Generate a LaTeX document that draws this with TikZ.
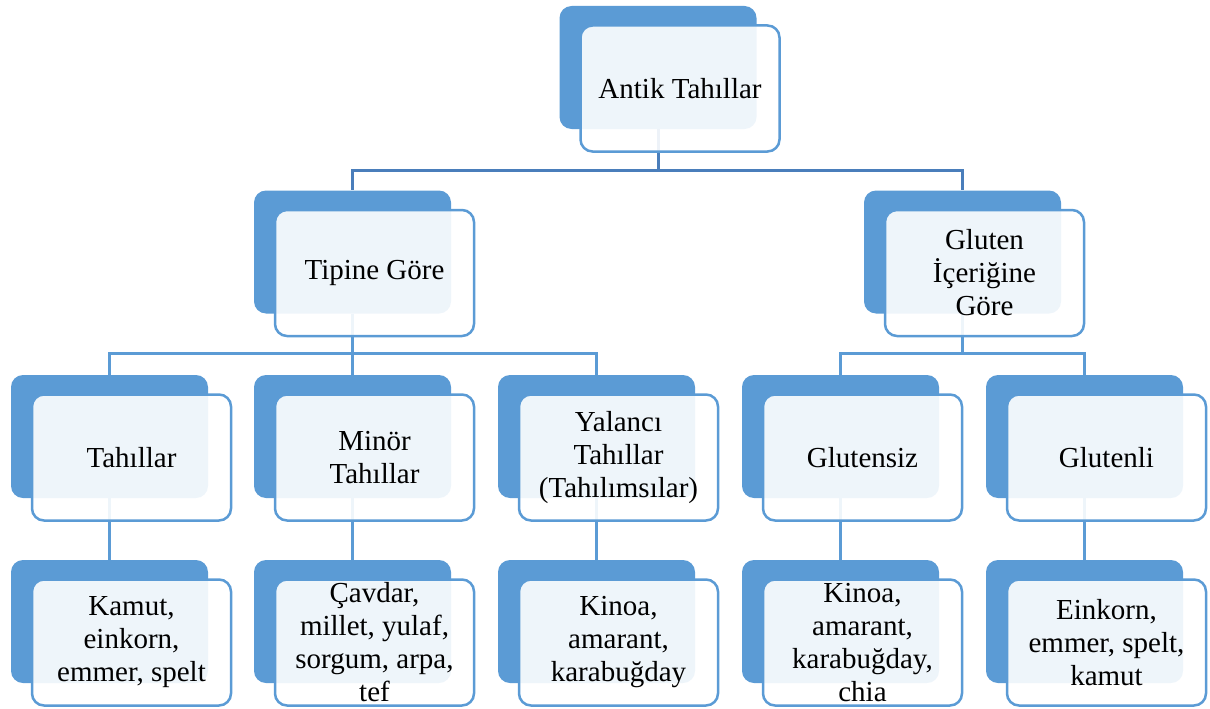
\documentclass[tikz,border=0pt]{standalone}
\usepackage{fontspec}
\setmainfont{LiberationSerif}[Extension=.ttf, UprightFont=*-Regular, BoldFont=*-Bold]
\usetikzlibrary{positioning}
\definecolor{boxblue}{HTML}{5B9BD5}
\definecolor{linkdark}{HTML}{4A7EBB}

\begin{document}
\begin{tikzpicture}[x=1pt, y=-1pt,
  back/.style={rectangle, rounded corners=12pt, fill=boxblue, minimum width=197pt, minimum height=123pt, inner sep=0pt},
  front/.style={rectangle, rounded corners=12pt, draw=boxblue, line width=2.5pt, fill=white, fill opacity=0.9, text opacity=1,
    minimum width=199pt, minimum height=126pt, inner sep=0pt, align=center, font=\rmfamily\fontsize{29}{33}\selectfont},
  link/.style={line width=3pt, draw=linkdark},
  sublink/.style={line width=3pt, draw=boxblue}]
  \useasboundingbox (0,0) rectangle (1210,709);

  % Back boxes
  \node[back] (rootb) at (658,67.5) {};
  \node[back] (tipb)  at (352.5,252) {};
  \node[back] (glub)  at (962.5,252) {};
  \node[back] (tahb)  at (109.5,436.5) {};
  \node[back] (minb)  at (352.5,436.5) {};
  \node[back] (yalb)  at (596.5,436.5) {};
  \node[back] (gsizb) at (840.5,436.5) {};
  \node[back] (glib)  at (1084.5,436.5) {};
  \node[back] (kamb)  at (109.5,621.5) {};
  \node[back] (cavb)  at (352.5,621.5) {};
  \node[back] (kinb)  at (596.5,621.5) {};
  \node[back] (chib)  at (840.5,621.5) {};
  \node[back] (einb)  at (1084.5,621.5) {};

  % Connectors
  \draw[link] (rootb.south) -- ++(0,41.5) -| (tipb.north);
  \draw[link] (rootb.south) -- ++(0,41.5) -| (glub.north);
  \draw[sublink] (tipb.south) -- ++(0,39.5) -| (tahb.north);
  \draw[sublink] (tipb.south) -- ++(0,39.5) -| (minb.north);
  \draw[sublink] (tipb.south) -- ++(0,39.5) -| (yalb.north);
  \draw[sublink] (glub.south) -- ++(0,39.5) -| (gsizb.north);
  \draw[sublink] (glub.south) -- ++(0,39.5) -| (glib.north);
  \draw[sublink] (tahb.south) -- (kamb.north);
  \draw[sublink] (minb.south) -- (cavb.north);
  \draw[sublink] (yalb.south) -- (kinb.north);
  \draw[sublink] (gsizb.south) -- (chib.north);
  \draw[sublink] (glib.south) -- (einb.north);

  % Front boxes with text
  \node[front] (root) at (680,88.5) {Antik Tahıllar};
  \node[front] (tip)  at (374.5,273) {Tipine Göre};
  \node[front] (glu)  at (984.5,273) {Gluten\\İçeriğine\\Göre};
  \node[front] (tah)  at (131.5,457.5) {Tahıllar};
  \node[front] (min)  at (374.5,457.5) {Minör\\Tahıllar};
  \node[front] (yal)  at (618.5,457.5) {Yalancı\\Tahıllar\\(Tahılımsılar)};
  \node[front] (gsiz) at (862.5,457.5) {Glutensiz};
  \node[front] (gli)  at (1106.5,457.5) {Glutenli};
  \node[front] (kam)  at (131.5,642.5) {Kamut,\\einkorn,\\emmer, spelt};
  \node[front] (cav)  at (374.5,642.5) {Çavdar,\\millet, yulaf,\\sorgum, arpa,\\tef};
  \node[front] (kin)  at (618.5,642.5) {Kinoa,\\amarant,\\karabuğday};
  \node[front] (chi)  at (862.5,642.5) {Kinoa,\\amarant,\\karabuğday,\\chia};
  \node[front] (ein)  at (1106.5,642.5) {Einkorn,\\emmer, spelt,\\kamut};
\end{tikzpicture}
\end{document}
